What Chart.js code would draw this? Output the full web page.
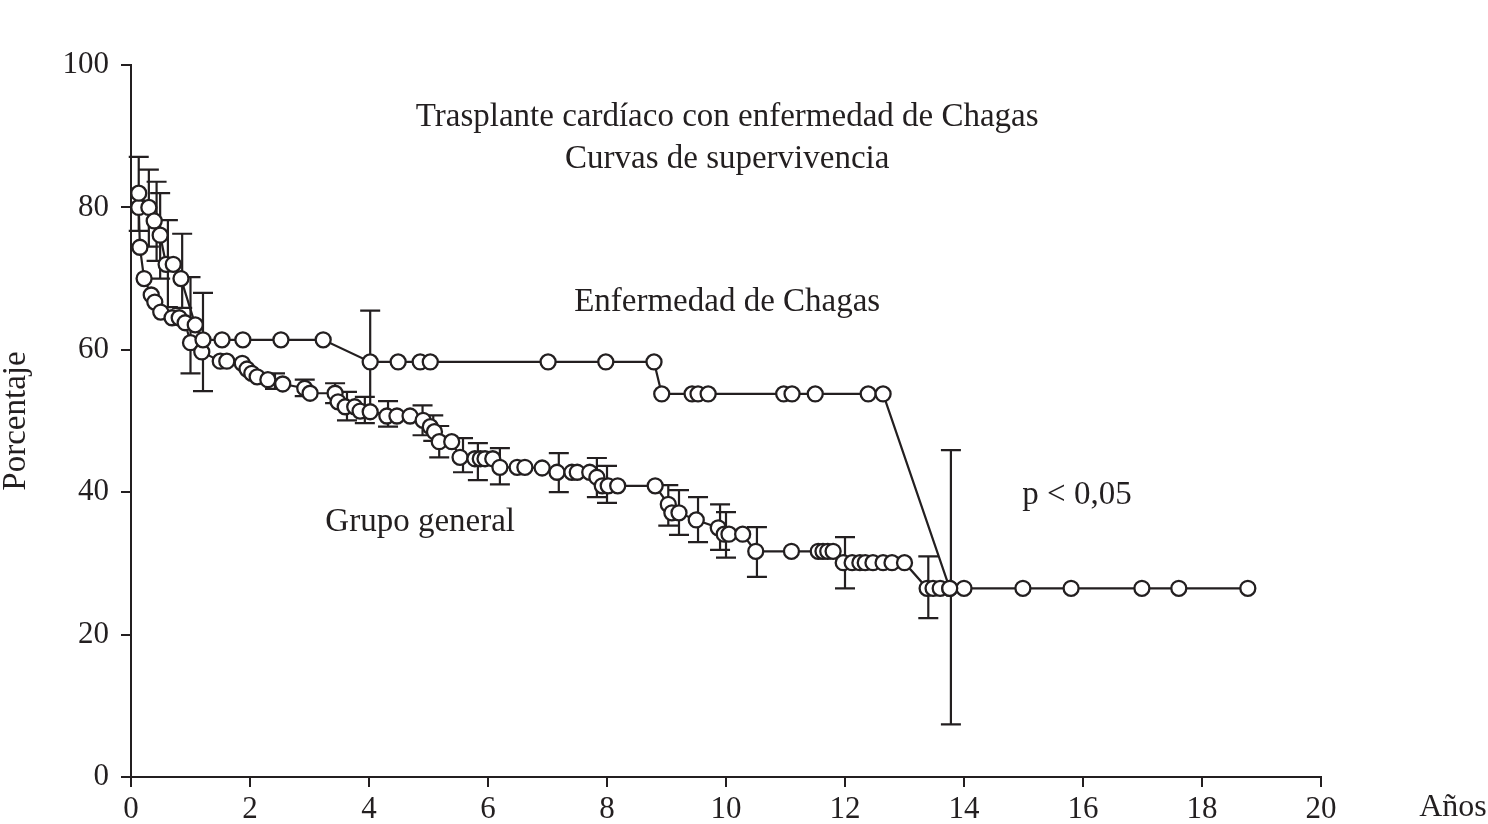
<!DOCTYPE html>
<html>
<head>
<meta charset="utf-8">
<script src="https://cdn.jsdelivr.net/npm/chart.js@4.4.1/dist/chart.umd.min.js"></script>
<style>
  html, body { margin: 0; padding: 0; background: #fff; }
  #wrap { width: 1488px; height: 824px; }
</style>
</head>
<body>
<div id="wrap"><canvas id="curvas"></canvas></div>
<script>
// Datos (años, porcentaje)
const chagasX = [0.13, 0.3, 0.39, 0.49, 0.59, 0.71, 0.84, 1.08, 1.21, 1.53, 1.88, 2.52, 3.23, 4.02, 4.49, 4.86, 5.03, 7.01, 7.98, 8.79, 8.92, 9.43, 9.53, 9.7, 10.97, 11.11, 11.5, 12.39, 12.64, 13.76];
const chagasY = [82, 80, 78.1, 76.1, 72, 72, 70, 63.5, 61.4, 61.4, 61.4, 61.4, 61.4, 58.3, 58.3, 58.3, 58.3, 58.3, 58.3, 58.3, 53.8, 53.8, 53.8, 53.8, 53.8, 53.8, 53.8, 53.8, 53.8, 26.5];

const generalX = [0.13, 0.15, 0.22, 0.34, 0.4, 0.5, 0.69, 0.81, 0.91, 1.0, 1.19, 1.5, 1.61, 1.87, 1.95, 2.03, 2.12, 2.3, 2.55, 2.92, 3.01, 3.43, 3.48, 3.6, 3.76, 3.85, 4.02, 4.3, 4.47, 4.69, 4.91, 5.03, 5.1, 5.18, 5.39, 5.53, 5.78, 5.87, 5.95, 6.08, 6.2, 6.49, 6.62, 6.91, 7.16, 7.41, 7.5, 7.71, 7.83, 7.92, 8.02, 8.18, 8.81, 9.03, 9.09, 9.21, 9.5, 9.87, 9.97, 10.05, 10.28, 10.5, 11.1, 11.55, 11.63, 11.71, 11.8, 11.97, 12.12, 12.25, 12.34, 12.47, 12.64, 12.79, 13.0, 13.38, 13.48, 13.6, 13.76, 14.0, 14.99, 15.8, 16.99, 17.61, 18.77];
const generalY = [80, 74.4, 70, 67.7, 66.7, 65.3, 64.5, 64.5, 63.8, 61, 59.7, 58.4, 58.4, 58.1, 57.3, 56.7, 56.2, 55.8, 55.2, 54.6, 53.9, 53.9, 52.7, 52, 52, 51.4, 51.3, 50.7, 50.7, 50.7, 50.1, 49.2, 48.5, 47.1, 47.1, 44.9, 44.7, 44.7, 44.7, 44.7, 43.5, 43.5, 43.5, 43.4, 42.8, 42.8, 42.8, 42.8, 42.1, 40.9, 40.9, 40.9, 40.9, 38.3, 37.1, 37.1, 36.1, 35, 34.1, 34.1, 34.1, 31.7, 31.7, 31.7, 31.7, 31.7, 31.7, 30.1, 30.1, 30.1, 30.1, 30.1, 30.1, 30.1, 30.1, 26.5, 26.5, 26.5, 26.5, 26.5, 26.5, 26.5, 26.5, 26.5, 26.5];

// Barras de error: [x, inferior, superior]
const chagasError = [[0.13, 76.7, 87.1], [0.3, 74.5, 85.3], [0.43, 72.5, 83.6], [0.49, 70, 82], [0.62, 66, 78.2], [0.86, 65.9, 76.3], [1.0, 56.7, 70.2], [1.21, 54.2, 68], [4.02, 51.1, 65.5], [13.78, 7.4, 45.9]];
const generalError = [[2.42, 54.5, 56.7], [2.92, 53.5, 55.8], [3.43, 52.5, 55.3], [3.63, 50.1, 54.1], [3.93, 49.7, 53.4], [4.32, 49.2, 52.8], [4.9, 48.0, 52.2], [5.08, 47.2, 50.8], [5.18, 44.9, 49.3], [5.58, 42.8, 47.6], [5.83, 41.7, 46.9], [6.2, 41.1, 46.2], [7.19, 40.0, 45.5], [7.83, 39.3, 44.8], [8.0, 38.5, 43.7], [9.03, 35.3, 41.0], [9.21, 34.0, 40.3], [9.53, 33.0, 39.3], [9.9, 31.9, 38.3], [10.0, 30.8, 37.2], [10.52, 28.1, 35.1], [12.0, 26.5, 33.7], [13.4, 22.3, 31.0]];

const xTicks = [0, 2, 4, 6, 8, 10, 12, 14, 16, 18, 20];
const yTicks = [0, 20, 40, 60, 80, 100];

// Textos dentro del gráfico: [texto, x, y]
const notas = [
    ['Trasplante cardíaco con enfermedad de Chagas', 10.02, 92.6],
    ['Curvas de supervivencia', 10.02, 86.7],
    ['Enfermedad de Chagas', 10.02, 66.7],
    ['Grupo general', 4.86, 35.8],
    ['p < 0,05', 15.9, 39.5]
];

const tinta = '#231f20';
const fuente = 'Liberation Serif, Times New Roman, serif';

const toPoints = (xs, ys) => xs.map((x, i) => ({ x: x, y: ys[i] }));

const errorBars = {
    id: 'errorBars',
    beforeDatasetsDraw(chart) {
        const { ctx, scales: { x, y } } = chart;
        ctx.save();
        ctx.strokeStyle = tinta;
        ctx.lineWidth = 2.2;
        [chagasError, generalError].forEach(lista => {
            lista.forEach(([vx, lo, hi]) => {
                const px = x.getPixelForValue(vx);
                const py1 = y.getPixelForValue(lo);
                const py2 = y.getPixelForValue(hi);
                ctx.beginPath();
                ctx.moveTo(px, py1); ctx.lineTo(px, py2);
                ctx.moveTo(px - 10, py1); ctx.lineTo(px + 10, py1);
                ctx.moveTo(px - 10, py2); ctx.lineTo(px + 10, py2);
                ctx.stroke();
            });
        });
        ctx.restore();
    }
};

const textos = {
    id: 'textos',
    afterDraw(chart) {
        const { ctx, scales: { x, y } } = chart;
        ctx.save();
        ctx.fillStyle = tinta;
        ctx.font = '33px ' + fuente;
        ctx.textAlign = 'center';
        ctx.textBaseline = 'middle';
        notas.forEach(([t, vx, vy]) => {
            ctx.fillText(t, x.getPixelForValue(vx), y.getPixelForValue(vy));
        });
        // Títulos de ejes
        ctx.font = '32px ' + fuente;
        ctx.fillText('Años', x.right + 132, y.bottom + 31);
        ctx.font = '33px ' + fuente;
        ctx.translate(16, (y.top + y.bottom) / 2);
        ctx.rotate(-Math.PI / 2);
        ctx.fillText('Porcentaje', 0, 0);
        ctx.restore();
    }
};

const serie = (datos) => ({
    data: datos,
    showLine: true,
    borderColor: tinta,
    borderWidth: 2.2,
    tension: 0,
    pointRadius: 7.5,
    pointHoverRadius: 7.5,
    pointBorderWidth: 2.3,
    pointBackgroundColor: '#ffffff',
    pointBorderColor: tinta
});

new Chart(document.getElementById('curvas').getContext('2d'), {
    type: 'scatter',
    data: {
        datasets: [
            serie(toPoints(chagasX, chagasY)),
            serie(toPoints(generalX, generalY))
        ]
    },
    options: {
        responsive: true,
        maintainAspectRatio: false,
        animation: false,
        layout: { padding: { left: 0, top: 65, right: 167, bottom: 0 } },
        plugins: { legend: { display: false }, tooltip: { enabled: false } },
        scales: {
            x: {
                type: 'linear',
                min: 0, max: 20,
                afterBuildTicks: (s) => { s.ticks = xTicks.map(v => ({ value: v })); },
                afterFit: (s) => { s.height = 47; },
                grid: { drawOnChartArea: false, drawTicks: true, tickLength: 10, color: tinta, lineWidth: 2 },
                border: { display: true, color: tinta, width: 2 },
                ticks: { color: tinta, font: { family: fuente, size: 31 }, padding: 4, maxRotation: 0 }
            },
            y: {
                type: 'linear',
                min: 0, max: 100,
                afterBuildTicks: (s) => { s.ticks = yTicks.map(v => ({ value: v })); },
                afterFit: (s) => { s.width = 131; },
                grid: { drawOnChartArea: false, drawTicks: true, tickLength: 10, color: tinta, lineWidth: 2 },
                border: { display: true, color: tinta, width: 2 },
                ticks: { color: tinta, font: { family: fuente, size: 31 }, padding: 12 }
            }
        }
    },
    plugins: [errorBars, textos]
});
</script>
</body>
</html>
